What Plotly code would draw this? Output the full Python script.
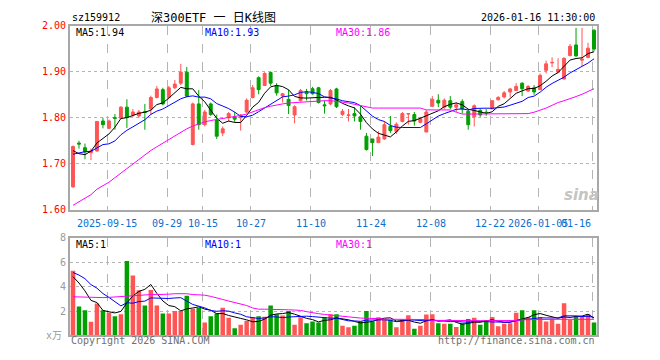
import plotly.graph_objects as go
import pandas as pd

# ---------------- data ----------------
holidays = ["2025-10-01", "2025-10-02", "2025-10-03", "2025-10-06", "2025-10-07",
            "2025-10-08", "2026-01-01", "2026-01-02"]
dates = [d.strftime("%Y-%m-%d") for d in pd.bdate_range("2025-09-05", "2026-01-16")
         if d.strftime("%Y-%m-%d") not in holidays]

open_ = [1.650, 1.745, 1.735, 1.724, 1.728, 1.793, 1.777, 1.800, 1.799, 1.823,
         1.806, 1.804, 1.813, 1.819, 1.844, 1.861, 1.844, 1.865, 1.875, 1.899,
         1.742, 1.830, 1.785, 1.830, 1.795, 1.767, 1.800, 1.802, 1.800, 1.8125,
         1.844, 1.887, 1.870, 1.898, 1.870, 1.847, 1.840, 1.806, 1.837, 1.856,
         1.863, 1.865, 1.828, 1.830, 1.8625, 1.807, 1.805, 1.809, 1.802, 1.760,
         1.754, 1.746, 1.754, 1.781, 1.770, 1.792, 1.808, 1.807, 1.790, 1.769,
         1.825, 1.838, 1.823, 1.837, 1.823, 1.835, 1.814, 1.802, 1.816, 1.812,
         1.819, 1.839, 1.845, 1.856, 1.859, 1.875, 1.858, 1.865, 1.861, 1.903,
         1.919, 1.899, 1.884, 1.935, 1.958, 1.925, 1.931, 1.990]
high = [1.740, 1.750, 1.744, 1.733, 1.792, 1.800, 1.796, 1.808, 1.825, 1.840,
        1.819, 1.817, 1.830, 1.848, 1.869, 1.865, 1.869, 1.882, 1.917, 1.910,
        1.833, 1.860, 1.817, 1.833, 1.807, 1.781, 1.8125, 1.8125, 1.808, 1.842,
        1.871, 1.890, 1.899, 1.900, 1.875, 1.854, 1.861, 1.827, 1.8625, 1.8625,
        1.867, 1.867, 1.837, 1.8625, 1.865, 1.819, 1.819, 1.823, 1.827, 1.767,
        1.754, 1.771, 1.792, 1.804, 1.790, 1.8125, 1.810, 1.8125, 1.802, 1.817,
        1.847, 1.851, 1.842, 1.847, 1.833, 1.840, 1.817, 1.829, 1.819, 1.819,
        1.8375, 1.847, 1.858, 1.865, 1.875, 1.877, 1.871, 1.871, 1.896, 1.924,
        1.931, 1.929, 1.931, 1.960, 1.995, 1.995, 1.9625, 1.992]
low = [1.648, 1.733, 1.710, 1.708, 1.726, 1.777, 1.775, 1.774, 1.798, 1.778,
       1.802, 1.800, 1.774, 1.806, 1.842, 1.827, 1.840, 1.8625, 1.871, 1.844,
       1.740, 1.774, 1.781, 1.804, 1.754, 1.760, 1.792, 1.790, 1.772, 1.810,
       1.842, 1.851, 1.869, 1.869, 1.848, 1.833, 1.808, 1.788, 1.835, 1.8375,
       1.850, 1.831, 1.809, 1.827, 1.821, 1.804, 1.792, 1.792, 1.774, 1.729,
       1.717, 1.746, 1.752, 1.767, 1.765, 1.790, 1.785, 1.783, 1.788, 1.769,
       1.823, 1.823, 1.819, 1.819, 1.8125, 1.809, 1.774, 1.781, 1.802, 1.804,
       1.819, 1.8375, 1.842, 1.844, 1.858, 1.847, 1.856, 1.850, 1.860, 1.896,
       1.910, 1.898, 1.883, 1.933, 1.933, 1.9125, 1.929, 1.944]
close = [1.7375, 1.743, 1.726, 1.728, 1.792, 1.785, 1.793, 1.799, 1.823, 1.801,
         1.8125, 1.8125, 1.8115, 1.844, 1.8625, 1.830, 1.865, 1.873, 1.899, 1.847,
         1.830, 1.785, 1.8125, 1.807, 1.760, 1.776, 1.809, 1.797, 1.806, 1.838,
         1.865, 1.861, 1.896, 1.875, 1.854, 1.852, 1.8265, 1.824, 1.859, 1.852,
         1.852, 1.833, 1.826, 1.859, 1.824, 1.814, 1.806, 1.804, 1.792, 1.731,
         1.746, 1.758, 1.785, 1.772, 1.786, 1.809, 1.809, 1.793, 1.798, 1.8125,
         1.840, 1.832, 1.838, 1.823, 1.828, 1.819, 1.785, 1.826, 1.806, 1.811,
         1.837, 1.844, 1.854, 1.8625, 1.868, 1.863, 1.868, 1.856, 1.892, 1.917,
         1.920, 1.905, 1.929, 1.955, 1.934, 1.927, 1.951, 1.949]
prev_close = [1.710, 1.705, 1.720, 1.715, 1.7155, 1.7765, 1.736, 1.6905, 1.703]

volume = [5.31, 2.38, 2.06, 1.11, 2.61, 2.06, 1.85, 1.58, 1.74, 6.10,
          4.91, 3.70, 2.46, 3.72, 2.46, 1.80, 1.80, 2.01, 2.00, 3.25,
          2.19, 2.27, 1.06, 1.58, 1.80, 2.27, 1.45, 0.58, 0.87, 1.21,
          1.48, 1.58, 1.53, 2.46, 1.74, 1.64, 2.00, 0.87, 1.48, 1.00,
          1.13, 1.06, 1.48, 1.74, 1.74, 0.79, 0.66, 0.79, 1.13, 2.00,
          1.13, 1.48, 1.32, 1.27, 0.66, 1.32, 1.66, 0.55, 0.79, 1.72,
          1.74, 1.00, 0.95, 0.95, 0.69, 1.00, 1.35, 1.45, 0.87, 1.27,
          1.50, 0.74, 0.95, 1.00, 1.85, 2.06, 1.50, 2.06, 1.50, 1.13,
          1.37, 0.95, 2.64, 1.27, 1.53, 1.53, 1.74, 1.05]
prev_volume = [4.5, 5.0, 6.0, 5.5, 6.5, 5.0, 5.3, 5.0, 3.5]

ma30_price = [1.610, 1.618, 1.625, 1.633, 1.645, 1.652, 1.660, 1.670, 1.680, 1.690,
              1.700, 1.710, 1.720, 1.729, 1.737, 1.745, 1.752, 1.760, 1.768, 1.776,
              1.782, 1.787, 1.791, 1.794, 1.796, 1.798, 1.800, 1.802, 1.805, 1.808,
              1.813, 1.818, 1.822, 1.825, 1.828, 1.830, 1.832, 1.833, 1.834, 1.835,
              1.836, 1.836, 1.837, 1.837, 1.836, 1.834, 1.832, 1.829, 1.826, 1.823,
              1.821, 1.821, 1.821, 1.821, 1.821, 1.821, 1.821, 1.821, 1.821, 1.817,
              1.817, 1.817, 1.817, 1.817, 1.812, 1.808, 1.808, 1.808, 1.808, 1.808,
              1.808, 1.808, 1.808, 1.808, 1.808, 1.808, 1.809, 1.812, 1.816, 1.821,
              1.827, 1.833, 1.837, 1.841, 1.846, 1.851, 1.857, 1.863]
ma30_volume = [3.17, 3.15, 3.13, 3.11, 3.10, 3.10, 3.12, 3.15, 3.20, 3.25,
               3.30, 3.32, 3.34, 3.35, 3.35, 3.35, 3.38, 3.42, 3.45, 3.42,
               3.35, 3.32, 3.30, 3.20, 3.10, 2.95, 2.82, 2.70, 2.58, 2.45,
               2.25, 2.15, 2.15, 2.15, 2.13, 2.12, 2.10, 2.08, 2.05, 1.95,
               1.85, 1.78, 1.72, 1.66, 1.64, 1.60, 1.53, 1.48, 1.42, 1.40,
               1.40, 1.38, 1.33, 1.32, 1.32, 1.32, 1.32, 1.32, 1.32, 1.30,
               1.23, 1.22, 1.21, 1.21, 1.21, 1.21, 1.21, 1.21, 1.21, 1.21,
               1.21, 1.21, 1.21, 1.21, 1.22, 1.28, 1.30, 1.31, 1.32, 1.32,
               1.32, 1.32, 1.32, 1.32, 1.32, 1.32, 1.32, 1.32]

grid_dates = ["2025-09-15", "2025-09-29", "2025-10-15", "2025-10-27", "2025-11-10",
              "2025-11-24", "2025-12-08", "2025-12-22", "2026-01-05", "2026-01-16"]
grid_labels = ["2025-09-15", "09-29", "10-15", "10-27", "11-10",
               "11-24", "12-08", "12-22", "2026-01-05", "01-16"]
price_ticks = [1.60, 1.70, 1.80, 1.90, 2.00]
volume_ticks = [2, 4, 6, 8]

# ---------------- helpers ----------------
def sma(prev, vals, n):
    seq = prev + vals
    k = len(prev)
    return [sum(seq[i - n + 1:i + 1]) / n for i in range(k, len(seq))]

ma5 = sma(prev_close, close, 5)
ma10 = sma(prev_close, close, 10)
vma5 = sma(prev_volume, volume, 5)
vma10 = sma(prev_volume, volume, 10)

x = list(range(len(dates)))
RED = "#ff5555"
GREEN = "#00a000"
BORDER = "#a8a8a8"
GRID = "#b4b4b4"
MONO = "DejaVu Sans Mono, Noto Sans CJK SC, monospace"

# page body has an 8px margin: draw a figure that fits exactly inside the window
OFF = 8
FW, FH = 660 - 2 * OFF, 360 - 2 * OFF

def sx(s):
    return (s - OFF) / FW

def sy(s):
    return 1 - (s - OFF) / FH

L, R = 70, 597
dom_x = [sx(L), sx(R)]
dom_y1 = [sy(211), sy(20)]
dom_y2 = [sy(341), sy(240)]

vcolors = [RED if c >= o else GREEN for o, c in zip(open_, close)]
grid_pos = [dates.index(d) - 0.3 for d in grid_dates]

fig = go.Figure()
fig.add_trace(go.Candlestick(
    x=x, open=open_, high=high, low=low, close=close,
    increasing=dict(line=dict(color=RED, width=1), fillcolor=RED),
    decreasing=dict(line=dict(color=GREEN, width=1), fillcolor=GREEN),
    whiskerwidth=0, xaxis="x", yaxis="y", showlegend=False, hoverinfo="skip"))
for ys, col in [(ma5, "black"), (ma10, "#0000ff"), (ma30_price, "#ff00ff")]:
    fig.add_trace(go.Scatter(x=x, y=ys, mode="lines", line=dict(color=col, width=1),
                             xaxis="x", yaxis="y", showlegend=False, hoverinfo="skip"))

fig.add_trace(go.Bar(x=x, y=volume, marker=dict(color=vcolors, line=dict(width=0)),
                     width=0.75, xaxis="x2", yaxis="y2", showlegend=False, hoverinfo="skip"))
for ys, col in [(vma5, "black"), (vma10, "#0000ff"), (ma30_volume, "#ff00ff")]:
    fig.add_trace(go.Scatter(x=x, y=ys, mode="lines", line=dict(color=col, width=1),
                             xaxis="x2", yaxis="y2", showlegend=False, hoverinfo="skip"))

xcommon = dict(domain=dom_x, range=[-0.5, len(x) - 0.5], tickmode="array",
               tickvals=grid_pos, showticklabels=False, ticks="",
               showgrid=True, griddash="dash", gridcolor=GRID, gridwidth=1,
               showline=True, mirror=True, linecolor=BORDER, linewidth=2,
               zeroline=False, fixedrange=True)
fig.update_layout(
    width=FW, height=FH, autosize=False,
    margin=dict(l=0, r=0, t=0, b=0),
    paper_bgcolor="white", plot_bgcolor="white",
    font=dict(family=MONO, size=10),
    xaxis=dict(anchor="y", rangeslider=dict(visible=False), **xcommon),
    xaxis2=dict(anchor="y2", **xcommon),
    yaxis=dict(domain=dom_y1, anchor="x", range=[1.6, 2.0], tickmode="array",
               tickvals=price_ticks, ticktext=[f"{v:.2f}" for v in price_ticks],
               tickfont=dict(color="#ff0000", size=10, family=MONO), ticks="",
               showgrid=True, griddash="dot", gridcolor=GRID, gridwidth=1,
               showline=True, mirror=True, linecolor=BORDER, linewidth=2,
               zeroline=False, fixedrange=True),
    yaxis2=dict(domain=dom_y2, anchor="x2", range=[0, 8], tickmode="array",
                tickvals=volume_ticks, ticktext=[str(v) for v in volume_ticks],
                tickfont=dict(color="#9a9a9a", size=10, family=MONO), ticks="",
                showgrid=True, griddash="dot", gridcolor=GRID, gridwidth=1,
                showline=True, mirror=True, linecolor=BORDER, linewidth=2,
                zeroline=False, fixedrange=True),
)

ann = []
def add(text, xpos, ypix, color="black", anchor="left", size=10, xref="paper", family=MONO):
    ann.append(dict(text=text, x=xpos, y=sy(ypix), xref=xref, yref="paper",
                    xanchor=anchor, yanchor="middle", showarrow=False,
                    font=dict(color=color, size=size, family=family)))

add("sz159912", sx(70), 12, "black")
add("深300ETF 一 日K线图", sx(149), 12, "black", size=12)
add("2026-01-16 11:30:00", sx(R), 12, "black", anchor="right")
add(f"MA5:{ma5[-1]:.2f}", sx(74), 27, "black")
add(f"MA10:{ma10[-1]:.2f}", sx(203), 27, "#0000ff")
add(f"MA30:{ma30_price[-1]:.2f}", sx(334), 27, "#ff00ff")
add(f"MA5:{round(vma5[-1])}", sx(74), 247, "black")
add(f"MA10:{round(vma10[-1])}", sx(203), 247, "#0000ff")
add(f"MA30:{round(ma30_volume[-1])}", sx(334), 247, "#ff00ff")
add("x万", sx(64), 341, "#9a9a9a", anchor="right")
add("Copyright 2026 SINA.COM", sx(69), 346, "#707070")
add("http://finance.sina.com.cn", sx(R), 346, "#707070", anchor="right")
add("<i><b>sina</b></i>", sx(581), 196, "#c4c4c4", anchor="center", size=15,
    family="DejaVu Sans, sans-serif")
for pos, lab in zip(grid_pos, grid_labels):
    anchor = "right" if lab == grid_labels[-1] else "center"
    xp = pos + (0.2 if anchor == "right" else 0)
    add(lab, xp, 225, "#0a6fd0", anchor=anchor, xref="x")
fig.update_layout(annotations=ann)

fig.write_html("out.html")
